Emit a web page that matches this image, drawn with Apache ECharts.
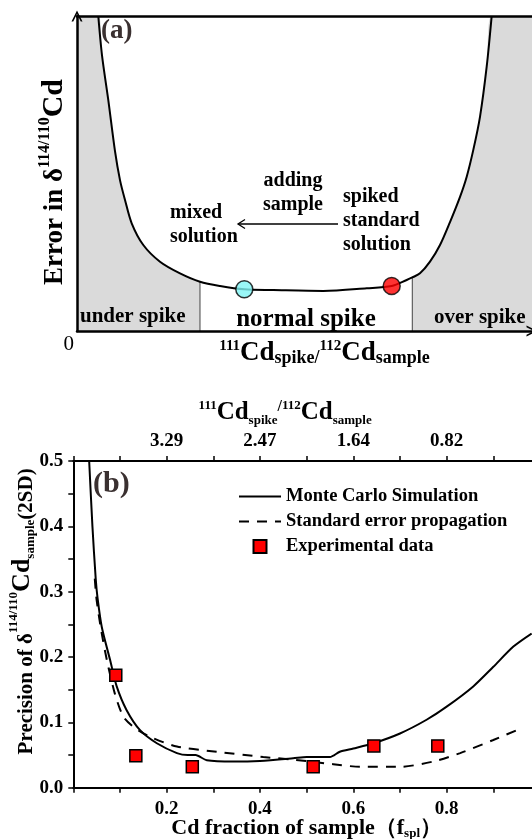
<!DOCTYPE html>
<html><head><meta charset="utf-8">
<script src="https://cdn.jsdelivr.net/npm/echarts@6/dist/echarts.min.js"></script>
<style>html,body{margin:0;padding:0;background:#fff}#c{width:532px;height:839px}</style>
</head><body><div id="c"></div>
<script>
// ---------- Panel (a): conceptual error curve (arbitrary units 0-100) ----------
const aCurveX = [4.68, 5.49, 6.88, 8.35, 9.45, 10.55, 12.02, 14.57, 18.24, 22.64, 27.03, 31.43, 36.77, 43.14, 54.13, 63.67, 69.16, 72.46, 73.69, 75.38, 77.58, 79.78, 81.98, 84.18, 85.65, 87.1, 88.57, 90.04, 91.14];
const aCurveY = [100, 87.6, 73.3, 57.1, 47.9, 41.6, 34.2, 27.3, 22.0, 18.3, 15.65, 14.3, 13.24, 13.0, 12.7, 13.56, 14.29, 16.19, 17.0, 18.3, 22.0, 27.3, 34.6, 42.6, 49.0, 57.5, 68.0, 83.9, 100];
const aBoundX = [27.03, 73.69];      // under / normal / over spike limits
const aBoundY = [15.65, 17.0];
const aPointX = [36.77, 69.16];      // mixed solution, spiked standard solution
const aPointY = [13.24, 14.29];
const aPointColor = ['#7ff5f5', '#ff0000'];
const aMax = 100;

// ---------- Panel (b) ----------
const mcX = [0.034, 0.041, 0.048, 0.052, 0.061, 0.079, 0.093, 0.114, 0.143, 0.179, 0.222, 0.245, 0.262, 0.286, 0.343, 0.400, 0.471, 0.500, 0.550, 0.571, 0.600, 0.643, 0.700, 0.757, 0.800, 0.857, 0.900, 0.943, 0.982];
const mcY = [0.500, 0.400, 0.320, 0.290, 0.246, 0.195, 0.155, 0.119, 0.088, 0.068, 0.053, 0.050, 0.050, 0.042, 0.040, 0.041, 0.045, 0.047, 0.047, 0.055, 0.060, 0.068, 0.083, 0.104, 0.124, 0.155, 0.185, 0.216, 0.236];
const sepX = [0.046, 0.050, 0.060, 0.072, 0.089, 0.107, 0.129, 0.164, 0.222, 0.307, 0.407, 0.471, 0.557, 0.614, 0.700, 0.771, 0.829, 0.900, 0.960];
const sepY = [0.320, 0.287, 0.240, 0.195, 0.144, 0.109, 0.093, 0.078, 0.063, 0.055, 0.047, 0.043, 0.036, 0.032, 0.032, 0.040, 0.053, 0.073, 0.091];
const expX = [0.091, 0.134, 0.255, 0.514, 0.644, 0.781];
const expY = [0.172, 0.049, 0.032, 0.032, 0.064, 0.064];
const topTickLabels = ['3.29', '2.47', '1.64', '0.82'];   // at f = 0.2, 0.4, 0.6, 0.8
const bottomTickLabels = ['0.2', '0.4', '0.6', '0.8'];

const FF = '"Liberation Serif", "Times New Roman", serif';
const zip = (xs, ys) => xs.map((x, i) => [x, ys[i]]);
const aCurve = zip(aCurveX, aCurveY);
const leftGray = [[0, aMax]].concat(aCurve.filter(p => p[0] <= aBoundX[0]));
const rightGray = aCurve.filter(p => p[0] >= aBoundX[1]).concat([[aMax, aMax]]);

const chart = echarts.init(document.getElementById('c'), null, {renderer: 'canvas'});
const chevron = 'path://M0,10 L5,0 L10,10 L8.4,10 L5,3.2 L1.6,10 Z';
const squareIcon = 'path://M0,0 L10,0 L10,10 L0,10 Z';

const option = {
  backgroundColor: '#fff',
  animation: false,
  grid: [
    {left: 77, right: 0, top: 16, bottom: 839 - 331, outerBoundsMode: 'none', containLabel: false},
    {left: 73.3, width: 466.7, top: 461, bottom: 839 - 787.7, outerBoundsMode: 'none', containLabel: false}
  ],
  xAxis: [
    { gridIndex: 0, type: 'value', min: 0, max: aMax, interval: aMax, z: 10,
      axisLine: {show: true, symbol: ['none', chevron], symbolSize: [11, 11], lineStyle: {color: '#000', width: 2.5}},
      axisTick: {show: false}, splitLine: {show: false},
      axisLabel: {show: true, formatter: v => v === 0 ? '0' : '', align: 'right', margin: 3, fontFamily: FF, fontSize: 21, color: '#000', padding: [0, 3, 0, 0]},
      name: '{sup|111}{big|Cd}{sub|spike/}{sup|112}{big|Cd}{sub|sample}', nameLocation: 'middle', nameGap: 8, nameMoveOverlap: false,
      nameTextStyle: {fontFamily: FF, fontWeight: 'bold', color: '#000', padding: [0, 0, 0, 40],
        rich: {
          sup: {fontFamily: FF, fontWeight: 'bold', fontSize: 15, verticalAlign: 'top', lineHeight: 28, color: '#000'},
          big: {fontFamily: FF, fontWeight: 'bold', fontSize: 27, lineHeight: 28, verticalAlign: 'bottom', color: '#000'},
          sub: {fontFamily: FF, fontWeight: 'bold', fontSize: 18, verticalAlign: 'bottom', lineHeight: 26, color: '#000'}
        }}
    },
    { gridIndex: 0, type: 'value', position: 'top', min: 0, max: aMax, z: 10,
      axisLine: {show: true, onZero: false, lineStyle: {color: '#000', width: 2.5}},
      axisTick: {show: false}, axisLabel: {show: false}, splitLine: {show: false}
    },
    { gridIndex: 1, type: 'value', min: 0, max: 1, interval: 0.1, z: 10,
      axisLine: {show: true, onZero: false, lineStyle: {color: '#000', width: 2}},
      axisTick: {show: true, length: 5, lineStyle: {color: '#000', width: 1.5}},
      splitLine: {show: false},
      axisLabel: {margin: 12, fontFamily: FF, fontWeight: 'bold', fontSize: 19, color: '#000',
        formatter: v => { const k = Math.round(v * 10); return (k % 2 === 0 && k > 0 && k < 10) ? bottomTickLabels[k / 2 - 1] : ''; }},
      name: '{n|Cd fraction of sample（f}{sub|spl}{n|）}', nameLocation: 'middle', nameGap: 28, nameMoveOverlap: false,
      nameTextStyle: {rich: {
        n: {fontFamily: FF, fontWeight: 'bold', fontSize: 22, color: '#000', lineHeight: 24, verticalAlign: 'bottom'},
        sub: {fontFamily: FF, fontWeight: 'bold', fontSize: 13, color: '#000', lineHeight: 22, verticalAlign: 'bottom'}
      }}
    },
    { gridIndex: 1, type: 'value', position: 'top', min: 0, max: 1, interval: 0.1, z: 10,
      axisLine: {show: true, onZero: false, lineStyle: {color: '#000', width: 2}},
      axisTick: {show: true, length: 5, lineStyle: {color: '#000', width: 1.5}},
      splitLine: {show: false},
      axisLabel: {margin: 10, fontFamily: FF, fontWeight: 'bold', fontSize: 19, color: '#000',
        formatter: v => { const k = Math.round(v * 10); return (k % 2 === 0 && k > 0 && k < 10) ? topTickLabels[k / 2 - 1] : ''; }},
      name: '{sup|111}{big|Cd}{sub|spike}{sl|/}{sup|112}{big|Cd}{sub|sample}', nameLocation: 'middle', nameGap: 34, nameMoveOverlap: false,
      nameTextStyle: {padding: [0, 43, 0, 0], rich: {
        sup: {fontFamily: FF, fontWeight: 'bold', fontSize: 13, verticalAlign: 'top', lineHeight: 28, color: '#000'},
        sl: {fontFamily: FF, fontWeight: 'bold', fontSize: 16, verticalAlign: 'top', lineHeight: 28, color: '#000'},
        big: {fontFamily: FF, fontWeight: 'bold', fontSize: 25, verticalAlign: 'middle', lineHeight: 28, color: '#000'},
        sub: {fontFamily: FF, fontWeight: 'bold', fontSize: 13, verticalAlign: 'bottom', lineHeight: 28, color: '#000'}
      }}
    }
  ],
  yAxis: [
    { gridIndex: 0, type: 'value', min: 0, max: aMax, z: 10,
      axisLine: {show: true, onZero: false, symbol: ['none', chevron], symbolSize: [11, 11], lineStyle: {color: '#000', width: 2.5}},
      axisTick: {show: false}, axisLabel: {show: false}, splitLine: {show: false},
      name: '{n|Error in δ}{sup|114/110}{big|Cd}', nameLocation: 'middle', nameRotate: 90, nameGap: 8, nameMoveOverlap: false,
      nameTextStyle: {padding: [0, 17, 0, 0], rich: {
        n: {fontFamily: FF, fontWeight: 'bold', fontSize: 27, color: '#000', lineHeight: 32, verticalAlign: 'bottom'},
        sup: {fontFamily: FF, fontWeight: 'bold', fontSize: 16, color: '#000', lineHeight: 32, verticalAlign: 'top'},
        big: {fontFamily: FF, fontWeight: 'bold', fontSize: 30, color: '#000', lineHeight: 32, verticalAlign: 'bottom'}
      }}
    },
    { gridIndex: 1, type: 'value', min: 0, max: 0.5, interval: 0.1, z: 10,
      axisLine: {show: true, onZero: false, lineStyle: {color: '#000', width: 2}},
      axisTick: {show: true, length: 5, lineStyle: {color: '#000', width: 1.5}},
      minorTick: {show: true, splitNumber: 2, length: 5, lineStyle: {color: '#000', width: 1.5}},
      splitLine: {show: false},
      axisLabel: {margin: 10, fontFamily: FF, fontWeight: 'bold', fontSize: 19, color: '#000', formatter: v => v.toFixed(1)},
      name: '{n|Precision of δ}{sup|114/110}{big|Cd}{sub|sample}{n|(2SD)}', nameLocation: 'middle', nameRotate: 90, nameGap: 36, nameMoveOverlap: false,
      nameTextStyle: {padding: [0, 0, 0, 26], rich: {
        n: {fontFamily: FF, fontWeight: 'bold', fontSize: 21, color: '#000', lineHeight: 30, verticalAlign: 'bottom'},
        sup: {fontFamily: FF, fontWeight: 'bold', fontSize: 13, color: '#000', lineHeight: 30, verticalAlign: 'top'},
        big: {fontFamily: FF, fontWeight: 'bold', fontSize: 26, color: '#000', lineHeight: 30, verticalAlign: 'middle'},
        sub: {fontFamily: FF, fontWeight: 'bold', fontSize: 13, color: '#000', lineHeight: 30, verticalAlign: 'bottom'}
      }}
    }
  ],
  legend: {
    orient: 'vertical', left: 238, top: 487, padding: 0, itemWidth: 42, itemHeight: 13, itemGap: 6,
    textStyle: {fontFamily: FF, fontWeight: 'bold', fontSize: 18.5, color: '#000'},
    data: [
      {name: 'Monte Carlo Simulation', itemStyle: {opacity: 0}},
      {name: 'Standard error propagation', itemStyle: {opacity: 0}},
      {name: 'Experimental data', icon: squareIcon}
    ]
  },
  series: [
    // panel (a)
    {type: 'line', xAxisIndex: 0, yAxisIndex: 0, data: leftGray, smooth: 0.3, symbol: 'none', z: 1,
      lineStyle: {width: 0}, areaStyle: {color: '#dadada', opacity: 1}, silent: true},
    {type: 'line', xAxisIndex: 0, yAxisIndex: 0, data: rightGray, smooth: 0.3, symbol: 'none', z: 1,
      lineStyle: {width: 0}, areaStyle: {color: '#dadada', opacity: 1}, silent: true},
    ...aBoundX.map((bx, i) => ({type: 'line', xAxisIndex: 0, yAxisIndex: 0, data: [[bx, 0], [bx, aBoundY[i]]], symbol: 'none', z: 2,
      lineStyle: {color: '#444', width: 1}})),
    {type: 'line', xAxisIndex: 0, yAxisIndex: 0, data: aCurve, smooth: 0.3, symbol: 'none', z: 3,
      lineStyle: {color: '#000', width: 2}},
    {type: 'scatter', xAxisIndex: 0, yAxisIndex: 0, z: 4, symbolSize: 17,
      data: aPointX.map((x, i) => ({value: [x, aPointY[i]], itemStyle: {color: aPointColor[i], borderColor: '#000', borderWidth: 1.5}}))},
    // panel (b)
    {name: 'Monte Carlo Simulation', type: 'line', xAxisIndex: 2, yAxisIndex: 1, data: zip(mcX, mcY), smooth: 0.25, symbol: 'none', z: 3,
      lineStyle: {color: '#000', width: 2}, itemStyle: {color: '#000'}},
    {name: 'Standard error propagation', type: 'line', xAxisIndex: 2, yAxisIndex: 1, data: zip(sepX, sepY), smooth: 0.25, symbol: 'none', z: 3,
      lineStyle: {color: '#000', width: 2, type: [10, 8]}, itemStyle: {color: '#000'}},
    {name: 'Experimental data', type: 'scatter', xAxisIndex: 2, yAxisIndex: 1, data: zip(expX, expY), symbol: 'rect', symbolSize: 12, z: 4,
      itemStyle: {color: '#ff0000', borderColor: '#000', borderWidth: 1.5, opacity: 1}}
  ],
  graphic: [
    {type: 'text', z: 100, left: 101, top: 18, style: {text: '(a)', font: 'bold 27px ' + FF, fill: '#3a3030'}},
    {type: 'text', z: 100, left: 93, top: 469, style: {text: '(b)', font: 'bold 30px ' + FF, fill: '#3a3030'}},
    {type: 'text', z: 100, x: 293, y: 169, style: {text: 'adding\nsample', font: 'bold 20px ' + FF, fill: '#000', align: 'center', lineHeight: 24}},
    {type: 'text', z: 100, x: 170, y: 201, style: {text: 'mixed\nsolution', font: 'bold 20px ' + FF, fill: '#000', align: 'left', lineHeight: 24}},
    {type: 'text', z: 100, x: 343, y: 185, style: {text: 'spiked\nstandard\nsolution', font: 'bold 20px ' + FF, fill: '#000', align: 'left', lineHeight: 24}},
    {type: 'line', z: 100, shape: {x1: 338, y1: 224, x2: 238, y2: 224}, style: {stroke: '#000', lineWidth: 1.3}},
    {type: 'polyline', z: 100, shape: {points: [[245, 219.5], [238, 224], [245, 228.5]]}, style: {stroke: '#000', lineWidth: 1.3, fill: null}},
    {type: 'text', z: 100, x: 80, y: 306, style: {text: 'under spike', font: 'bold 21px ' + FF, fill: '#000'}},
    {type: 'text', z: 100, x: 306, y: 307, style: {text: 'normal spike', font: 'bold 25px ' + FF, fill: '#000', align: 'center'}},
    {type: 'text', z: 100, x: 434, y: 307, style: {text: 'over spike', font: 'bold 21px ' + FF, fill: '#000'}}
  ]
};
chart.setOption(option);
</script></body></html>
